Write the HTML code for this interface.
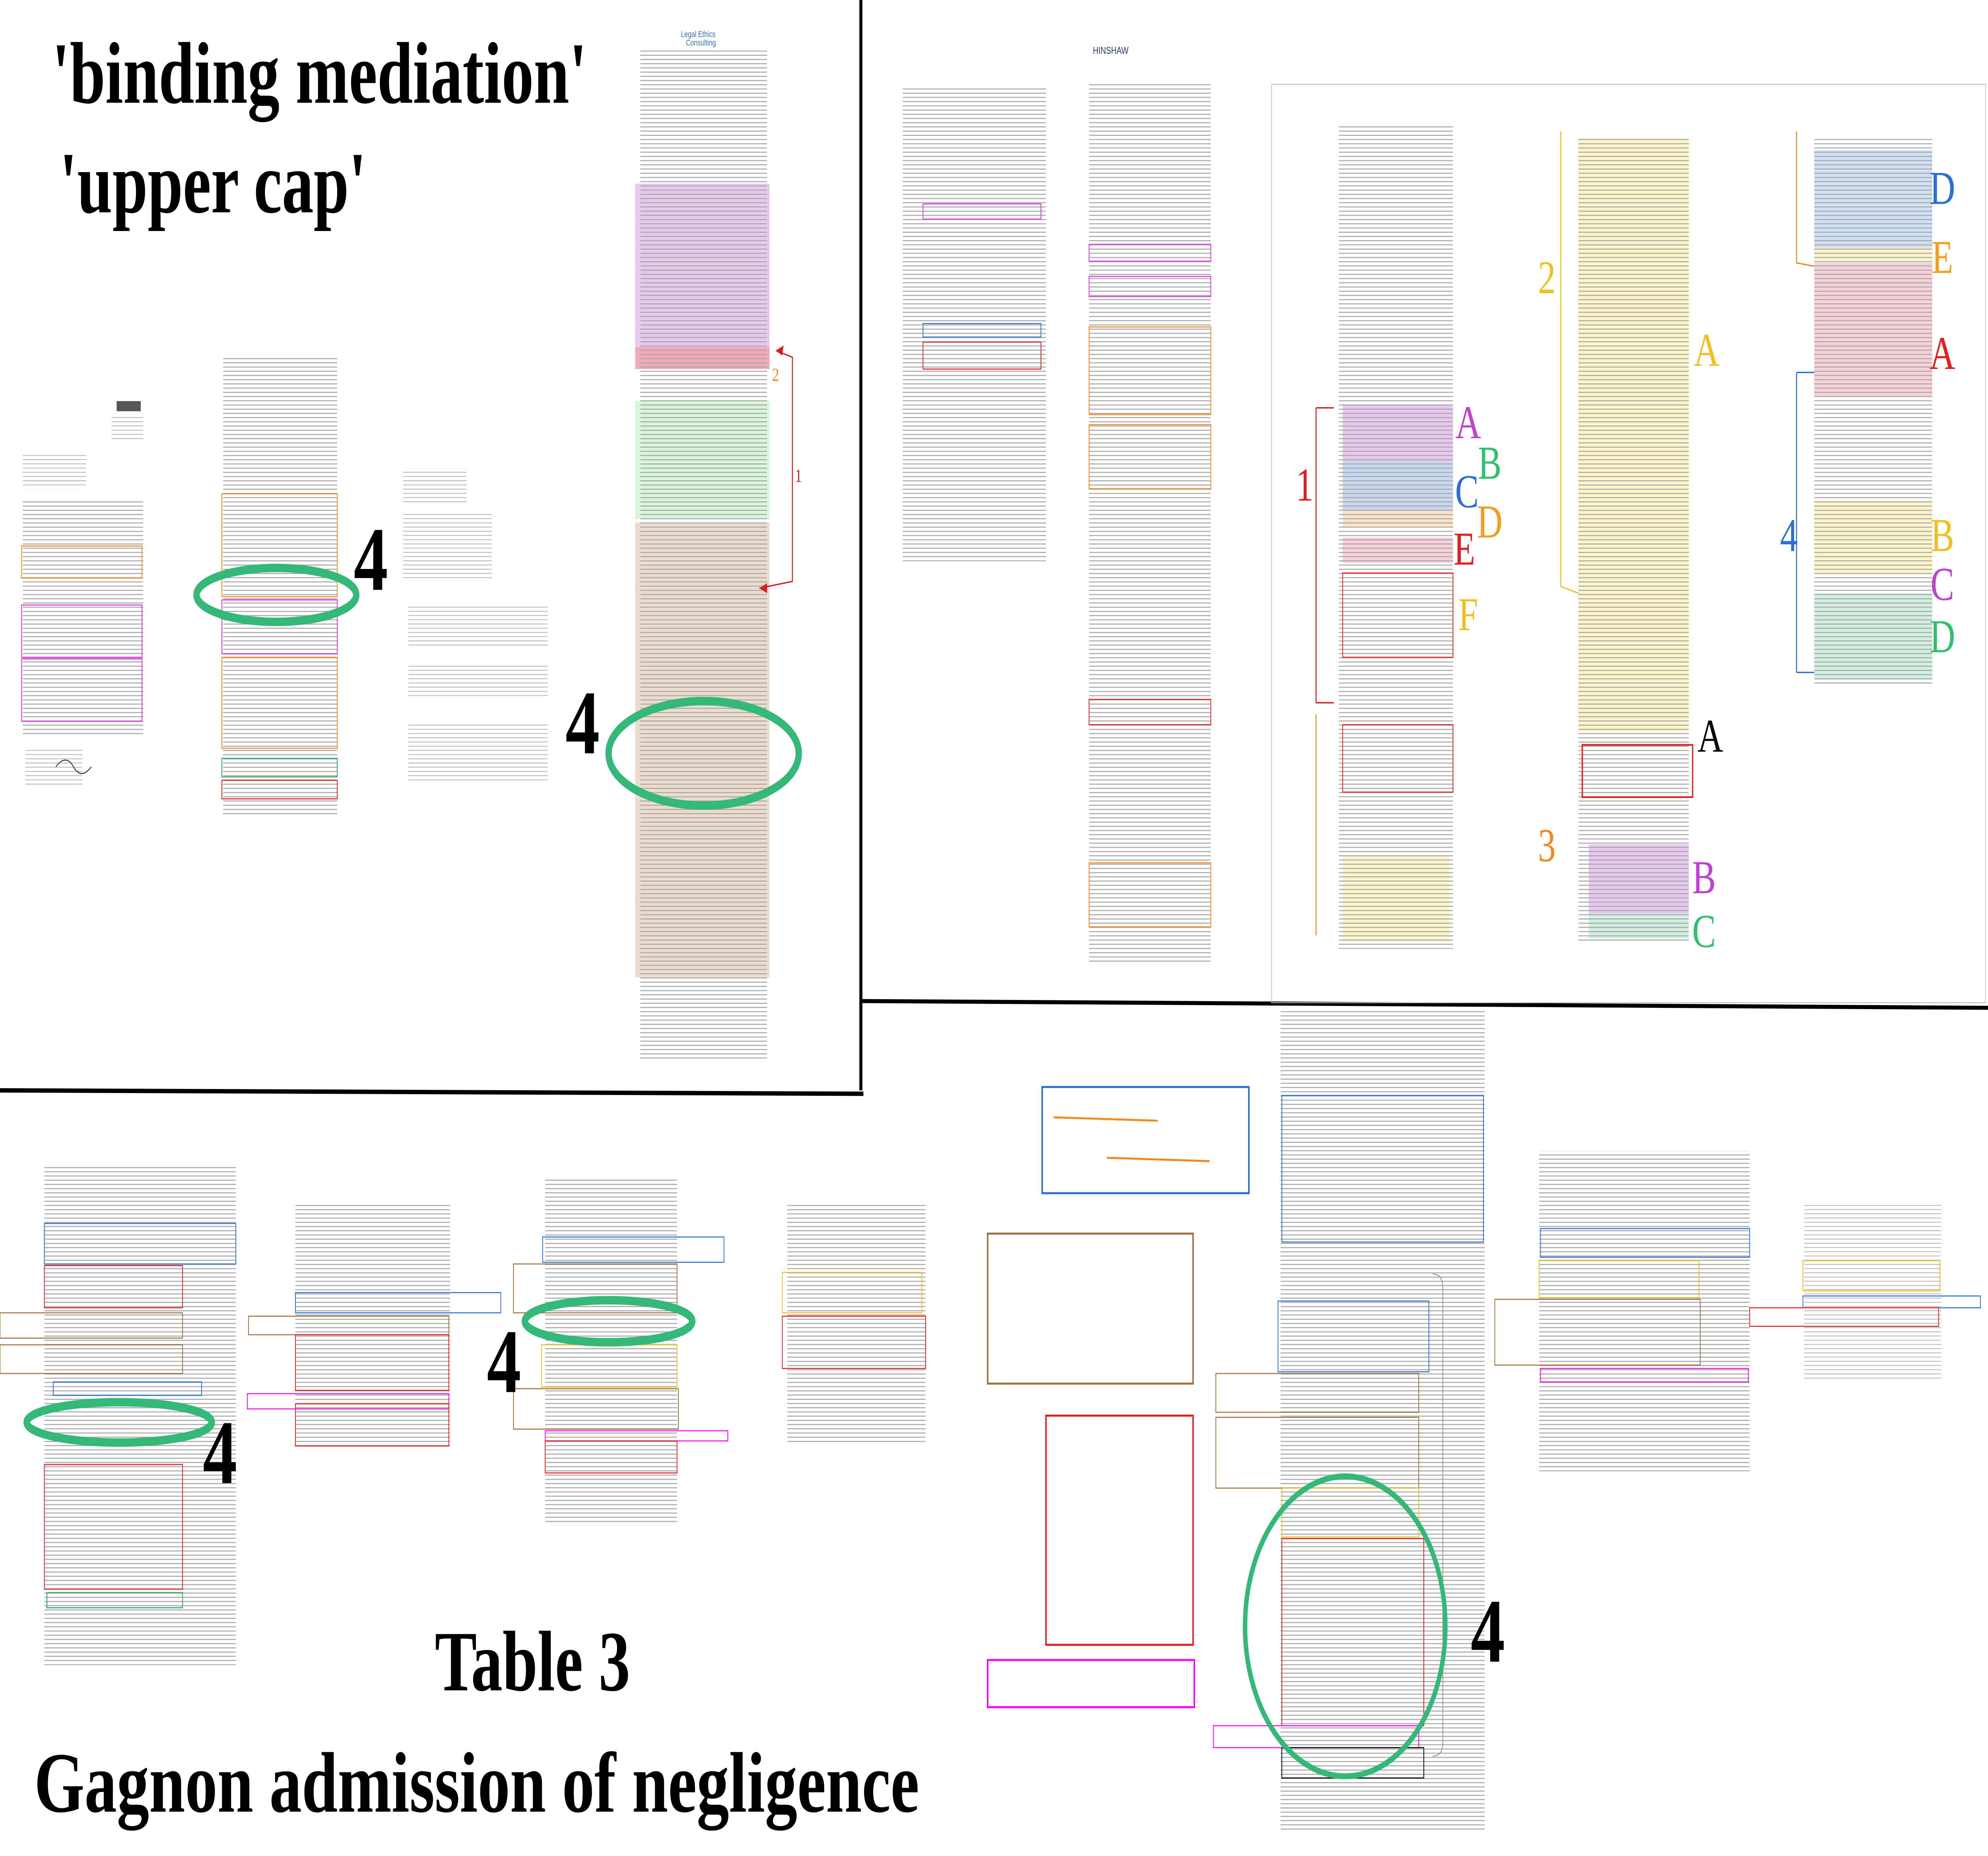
<!DOCTYPE html>
<html><head><meta charset="utf-8"><style>
html,body{margin:0;padding:0;background:#fff;width:100vw;height:100vh;overflow:hidden}
svg{display:block;position:absolute;left:0;top:0;width:100vw;height:100vh}
.big{font-family:"Liberation Serif",serif;font-weight:bold;fill:#000}
.L{font-family:"Liberation Serif",serif;font-size:28px}
</style></head><body>
<svg viewBox="0 0 1568 1101.3" preserveAspectRatio="none" xmlns="http://www.w3.org/2000/svg">
<defs>
<pattern id="t" width="20" height="2.5" patternUnits="userSpaceOnUse"><rect width="20" height="0.6" fill="#a8a8a8"/></pattern>
<pattern id="t2" width="20" height="2.5" patternUnits="userSpaceOnUse"><rect width="20" height="0.5" fill="#b8b8b8"/></pattern>
</defs>
<rect width="1568" height="1101.3" fill="#fff"/>

<line x1="679" y1="0" x2="679" y2="647" stroke="#000" stroke-width="2.4"/>
<line x1="0" y1="647" x2="681" y2="649" stroke="#000" stroke-width="2.6"/>
<line x1="679" y1="594" x2="1568" y2="598" stroke="#000" stroke-width="2.4"/>

<text class="big" x="41" y="61" font-size="52" textLength="422" lengthAdjust="spacingAndGlyphs">'binding mediation'</text>
<text class="big" x="47" y="126" font-size="52" textLength="242" lengthAdjust="spacingAndGlyphs">'upper cap'</text>
<text class="big" x="343" y="1003" font-size="51" textLength="154" lengthAdjust="spacingAndGlyphs">Table 3</text>
<text class="big" x="27" y="1075" font-size="51" textLength="698" lengthAdjust="spacingAndGlyphs">Gagnon admission of negligence</text>

<rect x="92" y="238" width="19" height="6" fill="#555"/>
<rect x="88" y="247" width="25" height="14" fill="url(#t2)"/>
<rect x="18" y="270" width="50" height="20" fill="url(#t2)"/>
<rect x="18" y="296" width="95" height="140" fill="url(#t)"/>
<rect x="17" y="324" width="95" height="19" fill="none" stroke="#f08a1c" stroke-width="0.6"/>
<rect x="17" y="359" width="95" height="31" fill="none" stroke="#e030e0" stroke-width="0.6"/>
<rect x="17" y="391" width="95" height="37" fill="none" stroke="#e030e0" stroke-width="0.6"/>
<rect x="20" y="445" width="45" height="22" fill="url(#t2)"/>
<path d="M44 455 q8 -8 14 0 t14 0" stroke="#333" fill="none" stroke-width="0.6"/>

<rect x="176" y="211" width="90" height="273" fill="url(#t)"/>
<rect x="175" y="293" width="91" height="61" fill="none" stroke="#f08a1c" stroke-width="0.6"/>
<rect x="175" y="356" width="91" height="32" fill="none" stroke="#e030e0" stroke-width="0.6"/>
<rect x="175" y="390" width="91" height="54" fill="none" stroke="#f08a1c" stroke-width="0.6"/>
<rect x="175" y="450" width="91" height="11" fill="none" stroke="#20b060" stroke-width="0.6"/>
<rect x="175" y="463" width="91" height="11" fill="none" stroke="#e02020" stroke-width="0.6"/>

<rect x="318" y="278" width="50" height="22" fill="url(#t2)"/>
<rect x="318" y="305" width="70" height="40" fill="url(#t2)"/>
<rect x="322" y="360" width="110" height="25" fill="url(#t2)"/>
<rect x="322" y="395" width="110" height="18" fill="url(#t2)"/>
<rect x="322" y="430" width="110" height="33" fill="url(#t2)"/>

<text x="537" y="22" font-family="Liberation Sans,sans-serif" font-size="5" fill="#3a6fc4">Legal Ethics</text>
<text x="541" y="27" font-family="Liberation Sans,sans-serif" font-size="5" fill="#3a6fc4">Consulting</text>
<rect x="501" y="109" width="106" height="97" fill="#e7c9ef"/>
<rect x="501" y="206" width="106" height="13" fill="#f2aab8"/>
<rect x="501" y="238" width="106" height="70" fill="#d8f6da"/>
<rect x="501" y="310" width="106" height="270" fill="#ecdcd0"/>
<rect x="505" y="30" width="100" height="600" fill="url(#t)"/>
<path d="M599 349 L625 345 L625 212 L612 208" fill="none" stroke="#d42020" stroke-width="0.8"/>
<path d="M612 208 l6 -3 l-1 6 z M599 349 l6 -3 l0 6 z" fill="#d42020"/>
<text x="609" y="226" font-family="Liberation Serif,serif" font-size="11" fill="#f08a1c">2</text>
<text x="627" y="286" font-family="Liberation Serif,serif" font-size="11" fill="#d42020">1</text>

<rect x="712" y="51" width="113" height="282" fill="url(#t)"/>
<rect x="728" y="121" width="93" height="9" fill="none" stroke="#e030e0" stroke-width="0.6"/>
<rect x="728" y="192" width="93" height="8" fill="none" stroke="#2a6fd6" stroke-width="0.6"/>
<rect x="728" y="203" width="93" height="16" fill="none" stroke="#e02020" stroke-width="0.6"/>
<text x="862" y="32" font-family="Liberation Sans,sans-serif" font-size="6" fill="#2a3a6a">HINSHAW</text>
<rect x="859" y="50" width="96" height="521" fill="url(#t)"/>
<rect x="859" y="145" width="96" height="10" fill="none" stroke="#e030e0" stroke-width="0.6"/>
<rect x="859" y="164" width="96" height="12" fill="none" stroke="#e030e0" stroke-width="0.6"/>
<rect x="859" y="194" width="96" height="52" fill="none" stroke="#f08a1c" stroke-width="0.6"/>
<rect x="859" y="252" width="96" height="38" fill="none" stroke="#f08a1c" stroke-width="0.6"/>
<rect x="859" y="415" width="96" height="15" fill="none" stroke="#e02020" stroke-width="0.6"/>
<rect x="859" y="512" width="96" height="38" fill="none" stroke="#f08a1c" stroke-width="0.6"/>

<rect x="1003" y="50" width="563" height="545" fill="none" stroke="#bbb" stroke-width="0.5"/>
<rect x="1059" y="240" width="87" height="34" fill="#e8c8f0"/>
<rect x="1059" y="274" width="87" height="29" fill="#c8d8f2"/>
<rect x="1059" y="303" width="87" height="10" fill="#fbe2c8"/>
<rect x="1059" y="319" width="87" height="15" fill="#f8d0d8"/>
<rect x="1245" y="82" width="87" height="352" fill="#fbf5c8"/>
<rect x="1059" y="508" width="84" height="51" fill="#fbf5c8"/>
<rect x="1253" y="501" width="79" height="41" fill="#e8c8f0"/>
<rect x="1253" y="542" width="79" height="15" fill="#d0f0e0"/>
<rect x="1431" y="89" width="93" height="58" fill="#d0e0f5"/>
<rect x="1431" y="147" width="93" height="8" fill="#fbf5c8"/>
<rect x="1431" y="156" width="93" height="79" fill="#f8d0d8"/>
<rect x="1431" y="297" width="93" height="43" fill="#fbf5c8"/>
<rect x="1431" y="352" width="93" height="51" fill="#d0f0e0"/>
<rect x="1056" y="74" width="90" height="489" fill="url(#t)"/>
<rect x="1245" y="82" width="87" height="477" fill="url(#t)"/>
<rect x="1431" y="82" width="93" height="325" fill="url(#t)"/>
<rect x="1248" y="442" width="87" height="31" fill="none" stroke="#e02020" stroke-width="1"/>
<rect x="1059" y="340" width="87" height="50" fill="none" stroke="#e02020" stroke-width="0.6"/>
<rect x="1059" y="430" width="87" height="40" fill="none" stroke="#e02020" stroke-width="0.6"/>
<line x1="1038" y1="242" x2="1038" y2="417" stroke="#d42020" stroke-width="0.8"/>
<line x1="1038" y1="242" x2="1052" y2="242" stroke="#d42020" stroke-width="0.8"/>
<line x1="1038" y1="417" x2="1052" y2="417" stroke="#d42020" stroke-width="0.8"/>
<line x1="1038" y1="424" x2="1038" y2="555" stroke="#f08a1c" stroke-width="0.8"/>
<line x1="1231" y1="78" x2="1231" y2="348" stroke="#f0c020" stroke-width="0.8"/>
<line x1="1231" y1="348" x2="1245" y2="352" stroke="#f0c020" stroke-width="0.8"/>
<line x1="1417" y1="78" x2="1417" y2="156" stroke="#f08a1c" stroke-width="0.8"/>
<line x1="1417" y1="156" x2="1431" y2="158" stroke="#f08a1c" stroke-width="0.8"/>
<line x1="1417" y1="221" x2="1417" y2="399" stroke="#2a6fd6" stroke-width="0.8"/>
<line x1="1417" y1="221" x2="1431" y2="221" stroke="#2a6fd6" stroke-width="0.8"/>
<line x1="1417" y1="399" x2="1431" y2="399" stroke="#2a6fd6" stroke-width="0.8"/>
<g class="L" text-anchor="middle">
<text x="1532" y="121" fill="#2a6fd6">D</text>
<text x="1532" y="162" fill="#f0a020">E</text>
<text x="1532" y="219" fill="#e02020">A</text>
<text x="1532" y="327" fill="#f0c020">B</text>
<text x="1532" y="356" fill="#c040d0">C</text>
<text x="1532" y="387" fill="#30c070">D</text>
<text x="1411" y="327" fill="#2a6fd6">4</text>
<text x="1158" y="260" fill="#c040d0">A</text>
<text x="1175" y="284" fill="#30c070">B</text>
<text x="1157" y="301" fill="#2a6fd6">C</text>
<text x="1175" y="319" fill="#f0a020">D</text>
<text x="1155" y="335" fill="#e02020">E</text>
<text x="1158" y="374" fill="#f0c020">F</text>
<text x="1029" y="297" fill="#e02020">1</text>
<text x="1220" y="174" fill="#f0c020">2</text>
<text x="1346" y="217" fill="#f0c020">A</text>
<text x="1220" y="511" fill="#f08a1c">3</text>
<text x="1349" y="446" fill="#000">A</text>
<text x="1344" y="530" fill="#c040d0">B</text>
<text x="1344" y="562" fill="#30c070">C</text>
</g>

<rect x="35" y="692" width="151" height="296" fill="url(#t)"/>
<rect x="35" y="726" width="151" height="24" fill="none" stroke="#2a6fd6" stroke-width="0.6"/>
<rect x="35" y="751" width="109" height="25" fill="none" stroke="#e02020" stroke-width="0.6"/>
<rect x="0" y="779" width="144" height="15" fill="none" stroke="#a0703c" stroke-width="0.6"/>
<rect x="0" y="798" width="144" height="17" fill="none" stroke="#a0703c" stroke-width="0.6"/>
<rect x="42" y="820" width="117" height="8" fill="none" stroke="#2a6fd6" stroke-width="0.6"/>
<rect x="35" y="869" width="109" height="74" fill="none" stroke="#e02020" stroke-width="0.6"/>
<rect x="37" y="945" width="107" height="9" fill="none" stroke="#20b060" stroke-width="0.6"/>

<rect x="233" y="715" width="122" height="143" fill="url(#t)"/>
<rect x="233" y="767" width="162" height="12" fill="none" stroke="#2a6fd6" stroke-width="0.6"/>
<rect x="196" y="781" width="158" height="11" fill="none" stroke="#a0703c" stroke-width="0.6"/>
<rect x="233" y="792" width="121" height="33" fill="none" stroke="#e02020" stroke-width="0.6"/>
<rect x="195" y="827" width="159" height="9" fill="none" stroke="#ff00ff" stroke-width="0.6"/>
<rect x="233" y="833" width="121" height="25" fill="none" stroke="#e02020" stroke-width="0.6"/>

<rect x="430" y="699" width="104" height="206" fill="url(#t)"/>
<rect x="428" y="734" width="143" height="15" fill="none" stroke="#2a6fd6" stroke-width="0.6"/>
<rect x="405" y="750" width="129" height="29" fill="none" stroke="#a0703c" stroke-width="0.6"/>
<rect x="427" y="798" width="107" height="25" fill="none" stroke="#f0c020" stroke-width="0.6"/>
<rect x="405" y="824" width="130" height="24" fill="none" stroke="#a0703c" stroke-width="0.6"/>
<rect x="430" y="849" width="144" height="6" fill="none" stroke="#ff00ff" stroke-width="0.6"/>
<rect x="430" y="855" width="104" height="19" fill="none" stroke="#e02020" stroke-width="0.6"/>

<rect x="621" y="715" width="109" height="141" fill="url(#t)"/>
<rect x="617" y="755" width="110" height="24" fill="none" stroke="#f0c020" stroke-width="0.6"/>
<rect x="617" y="781" width="113" height="31" fill="none" stroke="#e02020" stroke-width="0.6"/>

<rect x="822" y="645" width="163" height="63" fill="none" stroke="#2a6fd6" stroke-width="1.2"/>
<line x1="831" y1="663" x2="913" y2="665" stroke="#f08a1c" stroke-width="1.2"/>
<line x1="873" y1="687" x2="954" y2="689" stroke="#f08a1c" stroke-width="1.2"/>
<rect x="779" y="732" width="162" height="89" fill="none" stroke="#a0703c" stroke-width="1.2"/>
<rect x="825" y="840" width="116" height="136" fill="none" stroke="#e02020" stroke-width="1.2"/>
<rect x="779" y="985" width="163" height="28" fill="none" stroke="#ff00ff" stroke-width="1.2"/>

<rect x="1010" y="600" width="161" height="486" fill="url(#t)"/>
<rect x="1011" y="650" width="159" height="87" fill="none" stroke="#2a6fd6" stroke-width="0.6"/>
<rect x="1008" y="772" width="119" height="42" fill="none" stroke="#2a6fd6" stroke-width="0.6"/>
<rect x="959" y="815" width="160" height="23" fill="none" stroke="#a0703c" stroke-width="0.6"/>
<rect x="959" y="841" width="160" height="42" fill="none" stroke="#a0703c" stroke-width="0.6"/>
<rect x="1011" y="883" width="108" height="29" fill="none" stroke="#f0c020" stroke-width="0.6"/>
<rect x="1011" y="913" width="112" height="111" fill="none" stroke="#e02020" stroke-width="0.6"/>
<rect x="957" y="1024" width="162" height="13" fill="none" stroke="#ff00ff" stroke-width="0.6"/>
<rect x="1011" y="1037" width="112" height="18" fill="none" stroke="#000" stroke-width="0.6"/>
<path d="M1130 756 q8 0 8 8 L1138 1034 q0 8 -8 8" fill="none" stroke="#888" stroke-width="0.5"/>

<rect x="1214" y="683" width="166" height="190" fill="url(#t)"/>
<rect x="1215" y="729" width="165" height="17" fill="none" stroke="#2a6fd6" stroke-width="0.6"/>
<rect x="1214" y="748" width="126" height="22" fill="none" stroke="#f0c020" stroke-width="0.6"/>
<rect x="1179" y="771" width="162" height="39" fill="none" stroke="#a0703c" stroke-width="0.6"/>
<rect x="1215" y="812" width="164" height="8" fill="none" stroke="#ff00ff" stroke-width="0.6"/>

<rect x="1423" y="714" width="108" height="104" fill="url(#t2)"/>
<rect x="1422" y="748" width="108" height="18" fill="none" stroke="#f0c020" stroke-width="0.6"/>
<rect x="1422" y="769" width="140" height="7" fill="none" stroke="#2a6fd6" stroke-width="0.6"/>
<rect x="1380" y="776" width="149" height="11" fill="none" stroke="#e02020" stroke-width="0.6"/>

<g fill="none" stroke="#33b878" stroke-width="5">
<ellipse cx="218" cy="353" rx="63" ry="16"/>
<ellipse cx="555" cy="447" rx="75" ry="31"/>
<ellipse cx="480" cy="784" rx="66" ry="12.5"/>
<ellipse cx="94" cy="844" rx="73" ry="12"/>
<ellipse cx="1061" cy="965" rx="79" ry="89" stroke-width="3.5"/>
</g>

<g class="big" font-size="54">
<text x="279" y="350">4</text>
<text x="446" y="447">4</text>
<text x="384" y="826">4</text>
<text x="160" y="880">4</text>
<text x="1160" y="986">4</text>
</g>
</svg>
</body></html>
